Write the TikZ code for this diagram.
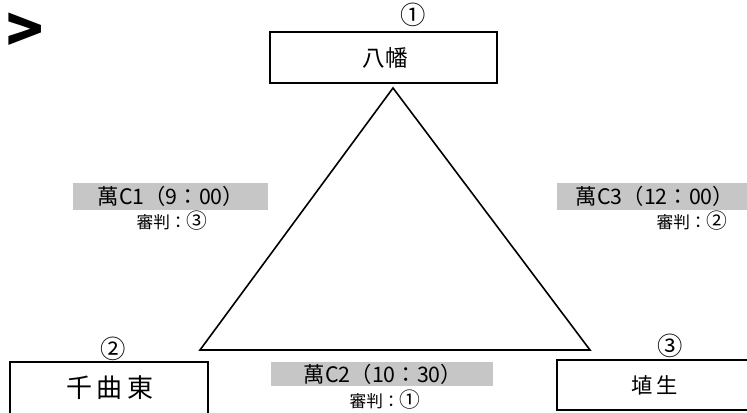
\documentclass[tikz,border=0pt]{standalone}
\usepackage{fontspec}
\setmainfont{Noto Sans CJK JP}
\tikzset{every picture/.style={line width=0.75pt}}
\tikzset{
  teambox/.style={draw,line width=1pt,inner sep=0pt},
  gamebar/.style={fill=gray!45,draw=none,inner sep=0pt},
  gametext/.style={inner sep=0.75pt,font=\fontsize{16}{16}\selectfont},
  refetext/.style={inner sep=0.75pt,font=\fontsize{12.5}{12.5}\selectfont},
  numtext/.style={inner sep=0.75pt,font=\fontsize{19}{19}\selectfont}
}
\newcommand{\refnum}[1]{\scalebox{1.25}{#1}}

\begin{document}
\begin{tikzpicture}[x=0.75pt,y=0.75pt,yscale=-1,xscale=1]
\useasboundingbox (0,0) rectangle (747,413);

%Heading fragment
\draw (25,33) node [inner sep=0pt,font=\fontsize{46}{46}\selectfont\bfseries] (head) {>};

%Shape: Triangle
\coordinate (topv) at (393,88);
\coordinate (leftv) at (200,350);
\coordinate (rightv) at (590,350);
\draw [line width=1.2pt] (topv) -- (rightv) -- (leftv) -- cycle ;

%Shape: Rectangle (Yawata)
\draw [teambox] (270,32) rectangle (497,83);
\draw (385,57.5) node [inner sep=0pt,font=\fontsize{17}{17}\selectfont] (yawata) {八幡};
\draw (413,15) node [numtext] (num1) {①};

%Shape: Rectangle (Chikumahigashi)
\draw [teambox] (10,362) rectangle (208,414);
\draw (110,388) node [inner sep=0pt,font=\fontsize{19.5}{19.5}\selectfont] (chikuma) {千\,曲\,東};
\draw (113,349) node [numtext] (num2) {②};

%Shape: Rectangle (Haniyu)
\draw [teambox] (557,360) rectangle (748,410);
\draw (655,385) node [inner sep=0pt,font=\fontsize{16}{16}\selectfont] (haniyu) {埴\,生};
\draw (670,346) node [numtext] (num3) {③};

%Game C1
\fill [gamebar] (73,183) rectangle (268,210);
\draw (171,196.5) node [gametext] (gc1) {萬C1（9：00）};
\draw (172,221) node [refetext] (rc1) {審判：\refnum{③}};

%Game C3
\fill [gamebar] (557,183) rectangle (747,210);
\draw (655,196.5) node [gametext] (gc3) {萬C3（12：00）};
\draw (692,221) node [refetext] (rc3) {審判：\refnum{②}};

%Game C2
\fill [gamebar] (271,362) rectangle (493,386);
\draw (383,374) node [gametext] (gc2) {萬C2（10：30）};
\draw (385,400) node [refetext] (rc2) {審判：\refnum{①}};
\end{tikzpicture}
\end{document}
